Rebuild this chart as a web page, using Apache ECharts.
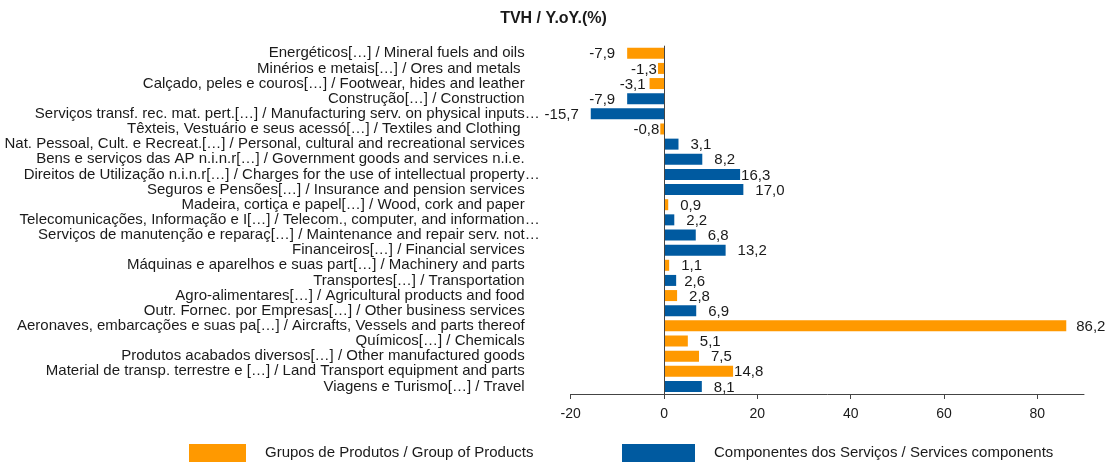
<!DOCTYPE html>
<html>
<head>
<meta charset="utf-8">
<script src="https://cdn.jsdelivr.net/npm/echarts@6/dist/echarts.min.js"></script>
<style>
  html, body { margin: 0; padding: 0; background: #fff; }
  #chart { width: 1107px; height: 462px; }
</style>
</head>
<body>
<div id="chart"></div>
<script>
const categories = [
  "Energéticos[…] / Mineral fuels and oils",
  "Minérios e metais[…] / Ores and metals ",
  "Calçado, peles e couros[…] / Footwear, hides and leather",
  "Construção[…] / Construction",
  "Serviços transf. rec. mat. pert.[…] / Manufacturing serv. on physical inputs…",
  "Têxteis, Vestuário e seus acessó[…] / Textiles and Clothing ",
  "Nat. Pessoal, Cult. e Recreat.[…] / Personal, cultural and recreational services",
  "Bens e serviços das AP n.i.n.r[…] / Government goods and services n.i.e.",
  "Direitos de Utilização n.i.n.r[…] / Charges for the use of intellectual property…",
  "Seguros e Pensões[…] / Insurance and pension services",
  "Madeira, cortiça e papel[…] / Wood, cork and paper",
  "Telecomunicações, Informação e I[…] / Telecom., computer, and information…",
  "Serviços de manutenção e reparaç[…] / Maintenance and repair serv. not…",
  "Financeiros[…] / Financial services",
  "Máquinas e aparelhos e suas part[…] / Machinery and parts",
  "Transportes[…] / Transportation",
  "Agro-alimentares[…] / Agricultural products and food",
  "Outr. Fornec. por Empresas[…] / Other business services",
  "Aeronaves, embarcações e suas pa[…] / Aircrafts, Vessels and parts thereof",
  "Químicos[…] / Chemicals",
  "Produtos acabados diversos[…] / Other manufactured goods",
  "Material de transp. terrestre e […] / Land Transport equipment and parts",
  "Viagens e Turismo[…] / Travel"
];
// G = Grupos de Produtos, S = Componentes dos Serviços
const groupOf = ["G","G","G","S","S","G","S","S","S","S","G","S","S","S","G","S","G","S","G","G","G","G","S"];
const values = [-7.9,-1.3,-3.1,-7.9,-15.7,-0.8,3.1,8.2,16.3,17.0,0.9,2.2,6.8,13.2,1.1,2.6,2.8,6.9,86.2,5.1,7.5,14.8,8.1];
const tickValues = [-20, 0, 20, 40, 60, 80];
const seriesNames = ["Grupos de Produtos / Group of Products", "Componentes dos Serviços / Services components"];
const chartTitle = "TVH / Y.oY.(%)";
// label pull toward bar end (px), to mimic the original label placement
const labelPull = [0,11,8,0,0,11,0,0,11,0,0,0,0,0,0,4,0,0,2,0,0,11,0];

const FONT = "'Liberation Sans', Arial, sans-serif";
const ORANGE = '#FF9900';
const BLUE = '#005AA0';
const TXT = '#1a1a1a';

function fmt(v) { return v.toFixed(1).replace('.', ','); }

function buildData(code) {
  return values.map(function (v, i) {
    if (groupOf[i] !== code) return '-';
    const neg = v < 0;
    const pull = labelPull[i];
    return {
      value: v,
      label: {
        position: neg ? 'left' : 'right',
        offset: [neg ? pull : -pull, 1]
      }
    };
  });
}

const labelCommon = {
  show: true,
  distance: 12,
  color: TXT,
  fontFamily: FONT,
  fontSize: 15,
  formatter: function (p) { return fmt(p.value); }
};

const chart = echarts.init(document.getElementById('chart'), null, { renderer: 'canvas' });
chart.setOption({
  animation: false,
  backgroundColor: '#fff',
  title: {
    text: chartTitle,
    left: 'center',
    top: 11,
    padding: 0,
    textStyle: { fontFamily: FONT, fontSize: 16, fontWeight: 'bold', color: TXT }
  },
  legend: [
    {
      data: [seriesNames[0]],
      left: 189, top: 444,
      padding: 0,
      itemWidth: 57, itemHeight: 18,
      icon: 'rect',
      textStyle: { fontFamily: FONT, fontSize: 15, color: TXT, padding: [1, 0, 0, 14] }
    },
    {
      data: [seriesNames[1]],
      left: 622, top: 444,
      padding: 0,
      itemWidth: 73, itemHeight: 18,
      icon: 'rect',
      textStyle: { fontFamily: FONT, fontSize: 15, color: TXT, padding: [1, 0, 0, 14] }
    }
  ],
  grid: { left: 570.7, right: 23, top: 45.7, bottom: 68 },
  xAxis: {
    type: 'value',
    min: -20, max: 90, interval: 20,
    axisLine: { show: true, lineStyle: { color: '#444', width: 1 } },
    axisTick: { show: true, length: 5, customValues: tickValues, lineStyle: { color: '#444' } },
    axisLabel: { customValues: tickValues, margin: 13, color: TXT, fontFamily: FONT, fontSize: 14 },
    splitLine: { show: false }
  },
  yAxis: {
    type: 'category',
    inverse: true,
    data: categories,
    axisLine: { show: false, onZero: false },
    axisTick: { show: false },
    axisLabel: {
      interval: 0,
      margin: 46,
      fontFamily: FONT,
      fontSize: 15,
      color: TXT,
      formatter: function (s) {
        if (s.endsWith('…')) return '{a|' + s.slice(0, -1) + '}{e|…}';
        return '{a|' + s + '}';
      },
      rich: {
        a: { fontFamily: FONT, fontSize: 15, color: TXT, align: 'left' },
        e: { fontFamily: FONT, fontSize: 15, color: TXT, align: 'left', width: 0 }
      }
    }
  },
  series: [
    {
      name: seriesNames[0],
      type: 'bar',
      stack: 'all',
      barWidth: 11,
      itemStyle: { color: ORANGE },
      label: labelCommon,
      data: buildData('G'),
      markLine: {
        silent: true,
        symbol: 'none',
        label: { show: false },
        lineStyle: { color: '#444', type: 'solid', width: 1 },
        data: [{ xAxis: 0 }]
      }
    },
    {
      name: seriesNames[1],
      type: 'bar',
      stack: 'all',
      barWidth: 11,
      itemStyle: { color: BLUE },
      label: labelCommon,
      data: buildData('S')
    }
  ]
});
</script>
</body>
</html>
